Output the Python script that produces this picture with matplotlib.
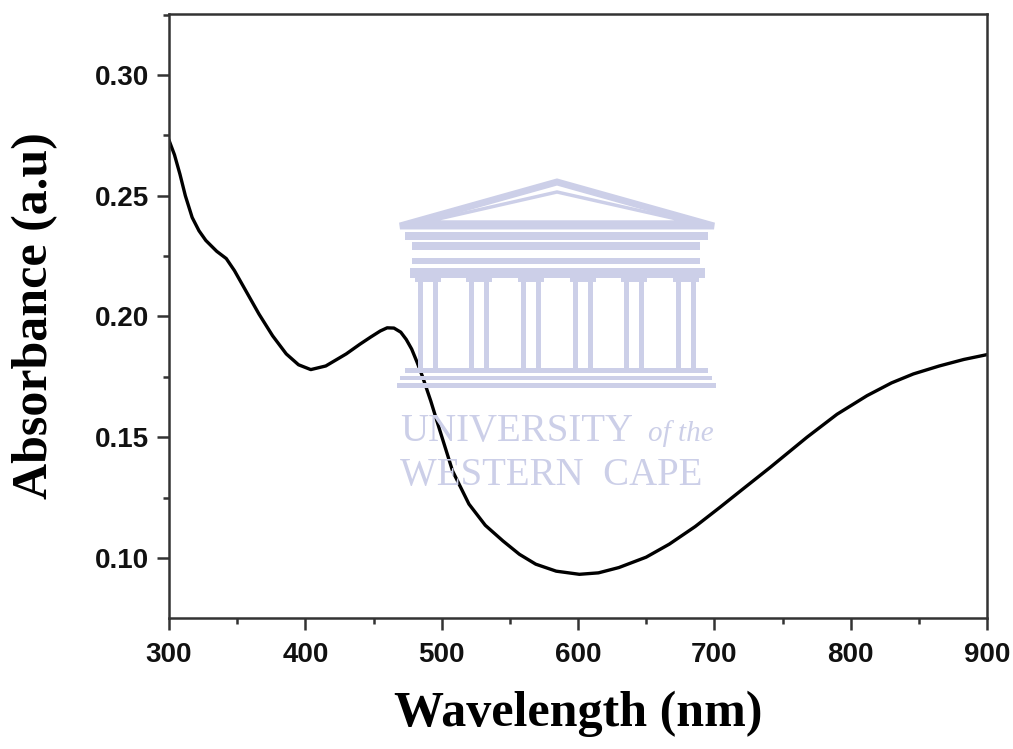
import matplotlib
matplotlib.use("Agg")
import matplotlib.pyplot as plt
from matplotlib.patches import Polygon, Rectangle
from matplotlib.ticker import MultipleLocator

wavelength = [300, 304, 308, 312, 317, 322, 327, 335, 342, 348, 355, 366, 376,
              386, 395, 404, 415, 430, 440, 448, 455, 460, 465, 470, 474, 478,
              482, 486, 492, 498, 508, 520, 532, 545, 557, 569, 584, 601, 615,
              630, 650, 667, 686, 704, 722, 741, 768, 790, 812, 830, 846, 865,
              883, 900]
absorbance = [0.273, 0.267, 0.259, 0.250, 0.241, 0.2355, 0.2315, 0.227, 0.224,
              0.219, 0.212, 0.201, 0.192, 0.1845, 0.180, 0.178, 0.1795, 0.1845,
              0.1885, 0.1915, 0.1940, 0.1953, 0.1952, 0.1935, 0.1905, 0.1865,
              0.181, 0.175, 0.165, 0.154, 0.136, 0.1223, 0.1135, 0.107, 0.1015,
              0.0974, 0.0945, 0.0932, 0.0938, 0.0960, 0.1003, 0.1057, 0.1130,
              0.1209, 0.1290, 0.1375, 0.150, 0.1595, 0.1672, 0.1725, 0.1762,
              0.1795, 0.1822, 0.1842]
x_ticks = [300, 400, 500, 600, 700, 800, 900]
y_ticks = [0.10, 0.15, 0.20, 0.25, 0.30]

W, H = 1013, 749
fig = plt.figure(figsize=(W / 100, H / 100), dpi=100)

# --- faint watermark (decoration) ---
wm = (0.80, 0.81, 0.91)
def px(x, y):
    return (x / W, 1 - y / H)
def rect(x0, y0, x1, y1):
    fig.patches.append(Rectangle(px(x0, y1), (x1 - x0) / W, (y1 - y0) / H,
                                 transform=fig.transFigure, facecolor=wm,
                                 edgecolor='none', zorder=0))
fig.patches.append(Polygon([px(400, 226), px(557, 182), px(714, 226)],
                           closed=True, transform=fig.transFigure,
                           facecolor='none', edgecolor=wm, lw=5, zorder=0))
fig.patches.append(Polygon([px(425, 222), px(557, 192), px(690, 222)],
                           closed=True, transform=fig.transFigure,
                           facecolor='none', edgecolor=wm, lw=2.5, zorder=0))
rect(405, 232, 708, 240)
rect(412, 242, 700, 250)
rect(412, 258, 700, 264)
rect(410, 268, 705, 278)
for cx in [428, 479, 531, 583, 634, 686]:
    rect(cx - 10, 278, cx - 5, 368)
    rect(cx + 5, 278, cx + 10, 368)
    rect(cx - 13, 274, cx + 13, 282)
rect(405, 368, 708, 373)
rect(400, 376, 712, 380)
rect(397, 383, 716, 388)
fig.text(400 / W, 1 - 441 / H, "UNIVERSITY", family="Liberation Serif",
         fontsize=28, color=wm, zorder=0)
fig.text(648 / W, 1 - 441 / H, "of the", family="Liberation Serif",
         style="italic", fontsize=21, color=wm, zorder=0)
fig.text(400 / W, 1 - 485 / H, "WESTERN  CAPE", family="Liberation Serif",
         fontsize=28, color=wm, zorder=0)

ax = fig.add_axes([169 / W, 1 - 618 / H, (987 - 169) / W, (618 - 14) / H])
ax.patch.set_alpha(0)
ax.plot(wavelength, absorbance, color='black', lw=2.4)

ax.set_xlim(300, 900)
ax.set_ylim(0.0751, 0.3253)
ax.set_xticks(x_ticks)
ax.set_yticks(y_ticks)
ax.set_xticklabels([str(v) for v in x_ticks])
ax.set_yticklabels([f"{v:.2f}" for v in y_ticks])
ax.xaxis.set_minor_locator(MultipleLocator(50))
ax.yaxis.set_minor_locator(MultipleLocator(0.025))

spine_c = '#333333'
for s in ax.spines.values():
    s.set_linewidth(1.8)
    s.set_color(spine_c)
ax.tick_params(which='major', direction='out', length=8.5, width=1.8,
               color=spine_c, top=False, right=False)
ax.tick_params(axis='x', which='major', pad=9)
ax.tick_params(axis='y', which='major', pad=6)
ax.tick_params(which='minor', direction='out', length=4.5, width=1.8,
               color=spine_c, top=False, right=False)
for lab in ax.get_xticklabels() + ax.get_yticklabels():
    lab.set_family("Liberation Sans")
    lab.set_fontweight("bold")
    lab.set_fontsize(20)
    lab.set_color('#111111')

ax.set_xlabel("Wavelength (nm)", family="Liberation Serif", fontweight="bold",
              fontsize=36, labelpad=16)
ax.set_ylabel("Absorbance (a.u)", family="Liberation Serif", fontweight="bold",
              fontsize=36, labelpad=26)

fig.savefig("out.png", dpi=100)
